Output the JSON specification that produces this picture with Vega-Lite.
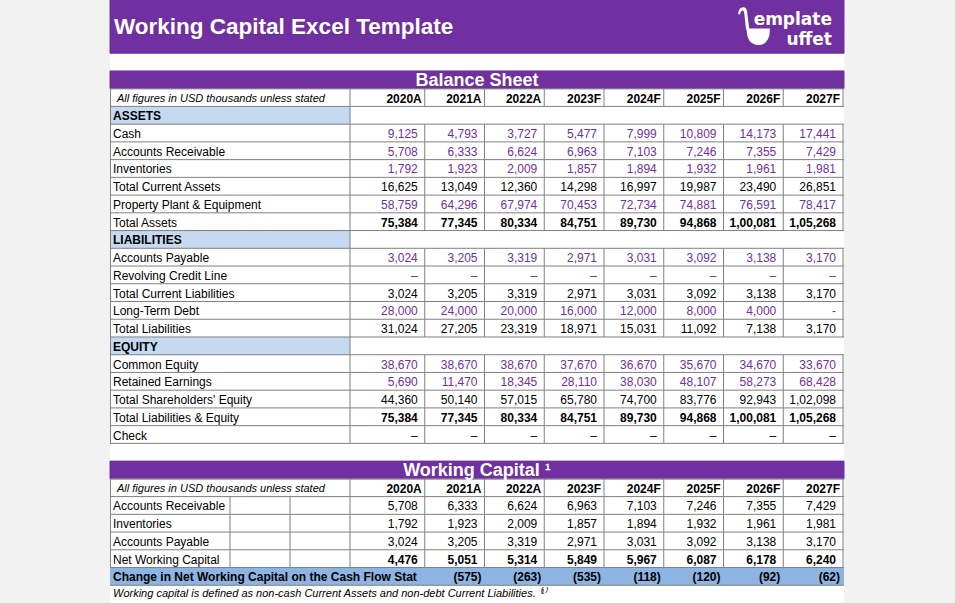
{
  "$schema": "https://vega.github.io/schema/vega-lite/v6.json",
  "width": 734,
  "height": 603,
  "padding": {"left": 110, "right": 111, "top": 0, "bottom": 0},
  "autosize": "none",
  "background": "#f2f2f2",
  "config": {
    "view": {"fill": "#ffffff", "stroke": null},
    "text": {"font": "Liberation Sans", "fontSize": 12, "baseline": "middle"}
  },
  "datasets": {
    "bands": [
      {"row": "h1", "kind": "title"},
      {"row": "h2", "kind": "title", "label": "Working Capital Excel Template"},
      {"row": "h3", "kind": "title"},
      {"row": "bsband", "kind": "band", "label": "Balance Sheet"},
      {"row": "wcband", "kind": "band", "label": "Working Capital \u00b9"}
    ],
    "lines": [
      {"table": "BS", "row": "bshead", "label": "All figures in USD thousands unless stated", "kind": "head", "2020A": "2020A", "2021A": "2021A", "2022A": "2022A", "2023F": "2023F", "2024F": "2024F", "2025F": "2025F", "2026F": "2026F", "2027F": "2027F"},
      {"table": "BS", "row": "ASSETS", "label": "ASSETS", "kind": "section"},
      {"table": "BS", "row": "bs_cash", "label": "Cash", "kind": "input", "2020A": "9,125", "2021A": "4,793", "2022A": "3,727", "2023F": "5,477", "2024F": "7,999", "2025F": "10,809", "2026F": "14,173", "2027F": "17,441"},
      {"table": "BS", "row": "bs_ar", "label": "Accounts Receivable", "kind": "input", "2020A": "5,708", "2021A": "6,333", "2022A": "6,624", "2023F": "6,963", "2024F": "7,103", "2025F": "7,246", "2026F": "7,355", "2027F": "7,429"},
      {"table": "BS", "row": "bs_inv", "label": "Inventories", "kind": "input", "2020A": "1,792", "2021A": "1,923", "2022A": "2,009", "2023F": "1,857", "2024F": "1,894", "2025F": "1,932", "2026F": "1,961", "2027F": "1,981"},
      {"table": "BS", "row": "bs_tca", "label": "Total Current Assets", "kind": "calc", "2020A": "16,625", "2021A": "13,049", "2022A": "12,360", "2023F": "14,298", "2024F": "16,997", "2025F": "19,987", "2026F": "23,490", "2027F": "26,851"},
      {"table": "BS", "row": "bs_ppe", "label": "Property Plant & Equipment", "kind": "input", "2020A": "58,759", "2021A": "64,296", "2022A": "67,974", "2023F": "70,453", "2024F": "72,734", "2025F": "74,881", "2026F": "76,591", "2027F": "78,417"},
      {"table": "BS", "row": "bs_ta", "label": "Total Assets", "kind": "total", "2020A": "75,384", "2021A": "77,345", "2022A": "80,334", "2023F": "84,751", "2024F": "89,730", "2025F": "94,868", "2026F": "1,00,081", "2027F": "1,05,268"},
      {"table": "BS", "row": "LIABILITIES", "label": "LIABILITIES", "kind": "section"},
      {"table": "BS", "row": "bs_ap", "label": "Accounts Payable", "kind": "input", "2020A": "3,024", "2021A": "3,205", "2022A": "3,319", "2023F": "2,971", "2024F": "3,031", "2025F": "3,092", "2026F": "3,138", "2027F": "3,170"},
      {"table": "BS", "row": "bs_rcl", "label": "Revolving Credit Line", "kind": "input", "2020A": "\u2013", "2021A": "\u2013", "2022A": "\u2013", "2023F": "\u2013", "2024F": "\u2013", "2025F": "\u2013", "2026F": "\u2013", "2027F": "\u2013"},
      {"table": "BS", "row": "bs_tcl", "label": "Total Current Liabilities", "kind": "calc", "2020A": "3,024", "2021A": "3,205", "2022A": "3,319", "2023F": "2,971", "2024F": "3,031", "2025F": "3,092", "2026F": "3,138", "2027F": "3,170"},
      {"table": "BS", "row": "bs_ltd", "label": "Long-Term Debt", "kind": "input", "2020A": "28,000", "2021A": "24,000", "2022A": "20,000", "2023F": "16,000", "2024F": "12,000", "2025F": "8,000", "2026F": "4,000", "2027F": "-"},
      {"table": "BS", "row": "bs_tl", "label": "Total Liabilities", "kind": "calc", "2020A": "31,024", "2021A": "27,205", "2022A": "23,319", "2023F": "18,971", "2024F": "15,031", "2025F": "11,092", "2026F": "7,138", "2027F": "3,170"},
      {"table": "BS", "row": "EQUITY", "label": "EQUITY", "kind": "section"},
      {"table": "BS", "row": "bs_ce", "label": "Common Equity", "kind": "input", "2020A": "38,670", "2021A": "38,670", "2022A": "38,670", "2023F": "37,670", "2024F": "36,670", "2025F": "35,670", "2026F": "34,670", "2027F": "33,670"},
      {"table": "BS", "row": "bs_re", "label": "Retained Earnings", "kind": "input", "2020A": "5,690", "2021A": "11,470", "2022A": "18,345", "2023F": "28,110", "2024F": "38,030", "2025F": "48,107", "2026F": "58,273", "2027F": "68,428"},
      {"table": "BS", "row": "bs_tse", "label": "Total Shareholders' Equity", "kind": "calc", "2020A": "44,360", "2021A": "50,140", "2022A": "57,015", "2023F": "65,780", "2024F": "74,700", "2025F": "83,776", "2026F": "92,943", "2027F": "1,02,098"},
      {"table": "BS", "row": "bs_tle", "label": "Total Liabilities & Equity", "kind": "total", "2020A": "75,384", "2021A": "77,345", "2022A": "80,334", "2023F": "84,751", "2024F": "89,730", "2025F": "94,868", "2026F": "1,00,081", "2027F": "1,05,268"},
      {"table": "BS", "row": "bs_check", "label": "Check", "kind": "calc", "2020A": "\u2013", "2021A": "\u2013", "2022A": "\u2013", "2023F": "\u2013", "2024F": "\u2013", "2025F": "\u2013", "2026F": "\u2013", "2027F": "\u2013"},
      {"table": "WC", "row": "wchead", "label": "All figures in USD thousands unless stated", "kind": "head", "2020A": "2020A", "2021A": "2021A", "2022A": "2022A", "2023F": "2023F", "2024F": "2024F", "2025F": "2025F", "2026F": "2026F", "2027F": "2027F"},
      {"table": "WC", "row": "wc_ar", "label": "Accounts Receivable", "kind": "calc", "2020A": "5,708", "2021A": "6,333", "2022A": "6,624", "2023F": "6,963", "2024F": "7,103", "2025F": "7,246", "2026F": "7,355", "2027F": "7,429"},
      {"table": "WC", "row": "wc_inv", "label": "Inventories", "kind": "calc", "2020A": "1,792", "2021A": "1,923", "2022A": "2,009", "2023F": "1,857", "2024F": "1,894", "2025F": "1,932", "2026F": "1,961", "2027F": "1,981"},
      {"table": "WC", "row": "wc_ap", "label": "Accounts Payable", "kind": "calc", "2020A": "3,024", "2021A": "3,205", "2022A": "3,319", "2023F": "2,971", "2024F": "3,031", "2025F": "3,092", "2026F": "3,138", "2027F": "3,170"},
      {"table": "WC", "row": "wc_nwc", "label": "Net Working Capital", "kind": "total", "2020A": "4,476", "2021A": "5,051", "2022A": "5,314", "2023F": "5,849", "2024F": "5,967", "2025F": "6,087", "2026F": "6,178", "2027F": "6,240"},
      {"table": "WC", "row": "wc_chg", "label": "Change in Net Working Capital on the Cash Flow Stat", "kind": "change", "2021A": "(575)", "2022A": "(263)", "2023F": "(535)", "2024F": "(118)", "2025F": "(120)", "2026F": "(92)", "2027F": "(62)"},
      {"table": "WC", "row": "foot", "label": "Working capital is defined as non-cash Current Assets and non-debt Current Liabilities. \u207d\u00b9\u207e", "kind": "foot"}
    ]
  },
  "resolve": {"scale": {"x": "independent"}},
  "layer": [
    {
      "data": {"name": "bands"},
      "mark": {"type": "rect", "color": "#7030a0", "stroke": "#7030a0", "strokeWidth": 1},
      "encoding": {
        "y": {"field": "row", "type": "nominal", "axis": null, "scale": {"type": "band", "paddingInner": 0, "paddingOuter": 0, "domain": ["h1","h2","h3","g1","bsband","bshead","ASSETS","bs_cash","bs_ar","bs_inv","bs_tca","bs_ppe","bs_ta","LIABILITIES","bs_ap","bs_rcl","bs_tcl","bs_ltd","bs_tl","EQUITY","bs_ce","bs_re","bs_tse","bs_tle","bs_check","g2","wcband","wchead","wc_ar","wc_inv","wc_ap","wc_nwc","wc_chg","foot"]}}
      }
    },
    {
      "data": {"name": "lines"},
      "transform": [{"filter": "datum.kind == 'section'"}],
      "mark": {"type": "rect", "color": "#c5d9f1"},
      "encoding": {
        "x": {"datum": "label", "type": "nominal", "axis": null, "scale": {"type": "band", "domain": ["label"], "range": [0, 240], "paddingInner": 0, "paddingOuter": 0}},
        "y": {"field": "row", "type": "nominal", "axis": null, "scale": {"type": "band", "paddingInner": 0, "paddingOuter": 0, "domain": ["h1","h2","h3","g1","bsband","bshead","ASSETS","bs_cash","bs_ar","bs_inv","bs_tca","bs_ppe","bs_ta","LIABILITIES","bs_ap","bs_rcl","bs_tcl","bs_ltd","bs_tl","EQUITY","bs_ce","bs_re","bs_tse","bs_tle","bs_check","g2","wcband","wchead","wc_ar","wc_inv","wc_ap","wc_nwc","wc_chg","foot"]}}
      }
    },
    {
      "data": {"name": "lines"},
      "transform": [{"filter": "datum.kind == 'change'"}],
      "mark": {"type": "rect", "color": "#8db4e2"},
      "encoding": {
        "y": {"field": "row", "type": "nominal", "axis": null, "scale": {"type": "band", "paddingInner": 0, "paddingOuter": 0, "domain": ["h1","h2","h3","g1","bsband","bshead","ASSETS","bs_cash","bs_ar","bs_inv","bs_tca","bs_ppe","bs_ta","LIABILITIES","bs_ap","bs_rcl","bs_tcl","bs_ltd","bs_tl","EQUITY","bs_ce","bs_re","bs_tse","bs_tle","bs_check","g2","wcband","wchead","wc_ar","wc_inv","wc_ap","wc_nwc","wc_chg","foot"]}}
      }
    },
    {
      "data": {"name": "lines"},
      "transform": [{"filter": "datum.kind != 'foot'"}],
      "mark": {"type": "rule", "color": "#808080", "strokeWidth": 1},
      "encoding": {
        "y": {"field": "row", "type": "nominal", "bandPosition": 1, "axis": null, "scale": {"type": "band", "paddingInner": 0, "paddingOuter": 0, "domain": ["h1","h2","h3","g1","bsband","bshead","ASSETS","bs_cash","bs_ar","bs_inv","bs_tca","bs_ppe","bs_ta","LIABILITIES","bs_ap","bs_rcl","bs_tcl","bs_ltd","bs_tl","EQUITY","bs_ce","bs_re","bs_tse","bs_tle","bs_check","g2","wcband","wchead","wc_ar","wc_inv","wc_ap","wc_nwc","wc_chg","foot"]}}
      }
    },
    {
      "data": {"name": "bands"},
      "transform": [{"filter": "datum.kind == 'band'"}],
      "mark": {"type": "rule", "color": "#808080", "strokeWidth": 1},
      "encoding": {
        "y": {"field": "row", "type": "nominal", "bandPosition": 1, "axis": null, "scale": {"type": "band", "paddingInner": 0, "paddingOuter": 0, "domain": ["h1","h2","h3","g1","bsband","bshead","ASSETS","bs_cash","bs_ar","bs_inv","bs_tca","bs_ppe","bs_ta","LIABILITIES","bs_ap","bs_rcl","bs_tcl","bs_ltd","bs_tl","EQUITY","bs_ce","bs_re","bs_tse","bs_tle","bs_check","g2","wcband","wchead","wc_ar","wc_inv","wc_ap","wc_nwc","wc_chg","foot"]}}
      }
    },
    {
      "data": {"name": "lines"},
      "transform": [
        {"filter": "datum.kind != 'change' && datum.kind != 'foot' && datum.kind != 'section'"},
        {"fold": ["2020A","2021A","2022A","2023F","2024F","2025F","2026F","2027F"], "as": ["year", "value"]},
        {"filter": "isValid(datum.value)"}
      ],
      "mark": {"type": "rule", "color": "#808080", "strokeWidth": 1},
      "encoding": {
        "x": {"field": "year", "type": "nominal", "bandPosition": 1, "axis": null, "scale": {"type": "band", "domain": ["2020A","2021A","2022A","2023F","2024F","2025F","2026F","2027F"], "range": [255, 733], "paddingInner": 0, "paddingOuter": 0}},
        "y": {"field": "row", "type": "nominal", "bandPosition": 0, "axis": null, "scale": {"type": "band", "paddingInner": 0, "paddingOuter": 0, "domain": ["h1","h2","h3","g1","bsband","bshead","ASSETS","bs_cash","bs_ar","bs_inv","bs_tca","bs_ppe","bs_ta","LIABILITIES","bs_ap","bs_rcl","bs_tcl","bs_ltd","bs_tl","EQUITY","bs_ce","bs_re","bs_tse","bs_tle","bs_check","g2","wcband","wchead","wc_ar","wc_inv","wc_ap","wc_nwc","wc_chg","foot"]}},
        "y2": {"field": "row", "bandPosition": 1}
      }
    },
    {
      "data": {"name": "lines"},
      "transform": [{"filter": "datum.kind != 'change' && datum.kind != 'foot'"}],
      "mark": {"type": "rule", "color": "#808080", "strokeWidth": 1},
      "encoding": {
        "x": {"datum": "label", "type": "nominal", "bandPosition": 1, "axis": null, "scale": {"type": "band", "domain": ["label"], "range": [0, 240], "paddingInner": 0, "paddingOuter": 0}},
        "y": {"field": "row", "type": "nominal", "bandPosition": 0, "axis": null, "scale": {"type": "band", "paddingInner": 0, "paddingOuter": 0, "domain": ["h1","h2","h3","g1","bsband","bshead","ASSETS","bs_cash","bs_ar","bs_inv","bs_tca","bs_ppe","bs_ta","LIABILITIES","bs_ap","bs_rcl","bs_tcl","bs_ltd","bs_tl","EQUITY","bs_ce","bs_re","bs_tse","bs_tle","bs_check","g2","wcband","wchead","wc_ar","wc_inv","wc_ap","wc_nwc","wc_chg","foot"]}},
        "y2": {"field": "row", "bandPosition": 1}
      }
    },
    {
      "data": {"name": "lines"},
      "transform": [{"filter": "datum.kind != 'change' && datum.kind != 'foot'"}],
      "mark": {"type": "rule", "color": "#808080", "strokeWidth": 1},
      "encoding": {
        "x": {"datum": "label", "type": "nominal", "bandPosition": 0, "axis": null, "scale": {"type": "band", "domain": ["label"], "range": [0.5, 240.5], "paddingInner": 0, "paddingOuter": 0}},
        "y": {"field": "row", "type": "nominal", "bandPosition": 0, "axis": null, "scale": {"type": "band", "paddingInner": 0, "paddingOuter": 0, "domain": ["h1","h2","h3","g1","bsband","bshead","ASSETS","bs_cash","bs_ar","bs_inv","bs_tca","bs_ppe","bs_ta","LIABILITIES","bs_ap","bs_rcl","bs_tcl","bs_ltd","bs_tl","EQUITY","bs_ce","bs_re","bs_tse","bs_tle","bs_check","g2","wcband","wchead","wc_ar","wc_inv","wc_ap","wc_nwc","wc_chg","foot"]}},
        "y2": {"field": "row", "bandPosition": 1}
      }
    },
    {
      "data": {"name": "lines"},
      "transform": [{"filter": "datum.table == 'WC' && (datum.kind == 'calc' || datum.kind == 'total')"}],
      "mark": {"type": "rule", "color": "#808080", "strokeWidth": 1},
      "encoding": {
        "x": {"datum": "label", "type": "nominal", "bandPosition": 0.5, "axis": null, "scale": {"type": "band", "domain": ["label"], "range": [0, 240], "paddingInner": 0, "paddingOuter": 0}},
        "y": {"field": "row", "type": "nominal", "bandPosition": 0, "axis": null, "scale": {"type": "band", "paddingInner": 0, "paddingOuter": 0, "domain": ["h1","h2","h3","g1","bsband","bshead","ASSETS","bs_cash","bs_ar","bs_inv","bs_tca","bs_ppe","bs_ta","LIABILITIES","bs_ap","bs_rcl","bs_tcl","bs_ltd","bs_tl","EQUITY","bs_ce","bs_re","bs_tse","bs_tle","bs_check","g2","wcband","wchead","wc_ar","wc_inv","wc_ap","wc_nwc","wc_chg","foot"]}},
        "y2": {"field": "row", "bandPosition": 1}
      }
    },
    {
      "data": {"name": "lines"},
      "transform": [{"filter": "datum.table == 'WC' && (datum.kind == 'calc' || datum.kind == 'total')"}],
      "mark": {"type": "rule", "color": "#808080", "strokeWidth": 1},
      "encoding": {
        "x": {"datum": "label", "type": "nominal", "bandPosition": 0.75, "axis": null, "scale": {"type": "band", "domain": ["label"], "range": [0, 240], "paddingInner": 0, "paddingOuter": 0}},
        "y": {"field": "row", "type": "nominal", "bandPosition": 0, "axis": null, "scale": {"type": "band", "paddingInner": 0, "paddingOuter": 0, "domain": ["h1","h2","h3","g1","bsband","bshead","ASSETS","bs_cash","bs_ar","bs_inv","bs_tca","bs_ppe","bs_ta","LIABILITIES","bs_ap","bs_rcl","bs_tcl","bs_ltd","bs_tl","EQUITY","bs_ce","bs_re","bs_tse","bs_tle","bs_check","g2","wcband","wchead","wc_ar","wc_inv","wc_ap","wc_nwc","wc_chg","foot"]}},
        "y2": {"field": "row", "bandPosition": 1}
      }
    },
    {
      "data": {"name": "lines"},
      "transform": [{"filter": "datum.kind == 'input' || datum.kind == 'calc' || datum.kind == 'total'"}],
      "mark": {"type": "text", "align": "left", "dx": 3, "dy": 1, "color": "#000000"},
      "encoding": {
        "text": {"field": "label"},
        "x": {"datum": "label", "type": "nominal", "bandPosition": 0, "axis": null, "scale": {"type": "band", "domain": ["label"], "range": [0, 240], "paddingInner": 0, "paddingOuter": 0}},
        "y": {"field": "row", "type": "nominal", "axis": null, "scale": {"type": "band", "paddingInner": 0, "paddingOuter": 0, "domain": ["h1","h2","h3","g1","bsband","bshead","ASSETS","bs_cash","bs_ar","bs_inv","bs_tca","bs_ppe","bs_ta","LIABILITIES","bs_ap","bs_rcl","bs_tcl","bs_ltd","bs_tl","EQUITY","bs_ce","bs_re","bs_tse","bs_tle","bs_check","g2","wcband","wchead","wc_ar","wc_inv","wc_ap","wc_nwc","wc_chg","foot"]}}
      }
    },
    {
      "data": {"name": "lines"},
      "transform": [{"filter": "datum.kind == 'section' || datum.kind == 'change'"}],
      "mark": {"type": "text", "align": "left", "dx": 3, "dy": 1, "fontWeight": "bold", "color": "#000000"},
      "encoding": {
        "text": {"field": "label"},
        "x": {"datum": "label", "type": "nominal", "bandPosition": 0, "axis": null, "scale": {"type": "band", "domain": ["label"], "range": [0, 240], "paddingInner": 0, "paddingOuter": 0}},
        "y": {"field": "row", "type": "nominal", "axis": null, "scale": {"type": "band", "paddingInner": 0, "paddingOuter": 0, "domain": ["h1","h2","h3","g1","bsband","bshead","ASSETS","bs_cash","bs_ar","bs_inv","bs_tca","bs_ppe","bs_ta","LIABILITIES","bs_ap","bs_rcl","bs_tcl","bs_ltd","bs_tl","EQUITY","bs_ce","bs_re","bs_tse","bs_tle","bs_check","g2","wcband","wchead","wc_ar","wc_inv","wc_ap","wc_nwc","wc_chg","foot"]}}
      }
    },
    {
      "data": {"name": "lines"},
      "transform": [{"filter": "datum.kind == 'head'"}],
      "mark": {"type": "text", "align": "left", "dx": 7, "dy": 1, "fontSize": 11, "fontStyle": "italic", "color": "#000000"},
      "encoding": {
        "text": {"field": "label"},
        "x": {"datum": "label", "type": "nominal", "bandPosition": 0, "axis": null, "scale": {"type": "band", "domain": ["label"], "range": [0, 240], "paddingInner": 0, "paddingOuter": 0}},
        "y": {"field": "row", "type": "nominal", "axis": null, "scale": {"type": "band", "paddingInner": 0, "paddingOuter": 0, "domain": ["h1","h2","h3","g1","bsband","bshead","ASSETS","bs_cash","bs_ar","bs_inv","bs_tca","bs_ppe","bs_ta","LIABILITIES","bs_ap","bs_rcl","bs_tcl","bs_ltd","bs_tl","EQUITY","bs_ce","bs_re","bs_tse","bs_tle","bs_check","g2","wcband","wchead","wc_ar","wc_inv","wc_ap","wc_nwc","wc_chg","foot"]}}
      }
    },
    {
      "data": {"name": "lines"},
      "transform": [{"filter": "datum.kind == 'foot'"}],
      "mark": {"type": "text", "align": "left", "dx": 3, "dy": 0, "fontSize": 11, "fontStyle": "italic", "color": "#000000"},
      "encoding": {
        "text": {"field": "label"},
        "x": {"datum": "label", "type": "nominal", "bandPosition": 0, "axis": null, "scale": {"type": "band", "domain": ["label"], "range": [0, 240], "paddingInner": 0, "paddingOuter": 0}},
        "y": {"field": "row", "type": "nominal", "axis": null, "scale": {"type": "band", "paddingInner": 0, "paddingOuter": 0, "domain": ["h1","h2","h3","g1","bsband","bshead","ASSETS","bs_cash","bs_ar","bs_inv","bs_tca","bs_ppe","bs_ta","LIABILITIES","bs_ap","bs_rcl","bs_tcl","bs_ltd","bs_tl","EQUITY","bs_ce","bs_re","bs_tse","bs_tle","bs_check","g2","wcband","wchead","wc_ar","wc_inv","wc_ap","wc_nwc","wc_chg","foot"]}}
      }
    },
    {
      "data": {"name": "lines"},
      "transform": [
        {"filter": "datum.kind == 'input' || datum.kind == 'calc'"},
        {"fold": ["2020A","2021A","2022A","2023F","2024F","2025F","2026F","2027F"], "as": ["year", "value"]},
        {"filter": "isValid(datum.value)"}
      ],
      "mark": {"type": "text", "align": "right", "dx": -7, "dy": 1},
      "encoding": {
        "text": {"field": "value"},
        "color": {"field": "kind", "type": "nominal", "legend": null, "scale": {"domain": ["input", "calc"], "range": ["#7030a0", "#000000"]}},
        "x": {"field": "year", "type": "nominal", "bandPosition": 1, "axis": null, "scale": {"type": "band", "domain": ["2020A","2021A","2022A","2023F","2024F","2025F","2026F","2027F"], "range": [255, 733], "paddingInner": 0, "paddingOuter": 0}},
        "y": {"field": "row", "type": "nominal", "axis": null, "scale": {"type": "band", "paddingInner": 0, "paddingOuter": 0, "domain": ["h1","h2","h3","g1","bsband","bshead","ASSETS","bs_cash","bs_ar","bs_inv","bs_tca","bs_ppe","bs_ta","LIABILITIES","bs_ap","bs_rcl","bs_tcl","bs_ltd","bs_tl","EQUITY","bs_ce","bs_re","bs_tse","bs_tle","bs_check","g2","wcband","wchead","wc_ar","wc_inv","wc_ap","wc_nwc","wc_chg","foot"]}}
      }
    },
    {
      "data": {"name": "lines"},
      "transform": [
        {"filter": "datum.kind == 'total'"},
        {"fold": ["2020A","2021A","2022A","2023F","2024F","2025F","2026F","2027F"], "as": ["year", "value"]},
        {"filter": "isValid(datum.value)"}
      ],
      "mark": {"type": "text", "align": "right", "dx": -7, "dy": 1, "fontWeight": "bold", "color": "#000000"},
      "encoding": {
        "text": {"field": "value"},
        "x": {"field": "year", "type": "nominal", "bandPosition": 1, "axis": null, "scale": {"type": "band", "domain": ["2020A","2021A","2022A","2023F","2024F","2025F","2026F","2027F"], "range": [255, 733], "paddingInner": 0, "paddingOuter": 0}},
        "y": {"field": "row", "type": "nominal", "axis": null, "scale": {"type": "band", "paddingInner": 0, "paddingOuter": 0, "domain": ["h1","h2","h3","g1","bsband","bshead","ASSETS","bs_cash","bs_ar","bs_inv","bs_tca","bs_ppe","bs_ta","LIABILITIES","bs_ap","bs_rcl","bs_tcl","bs_ltd","bs_tl","EQUITY","bs_ce","bs_re","bs_tse","bs_tle","bs_check","g2","wcband","wchead","wc_ar","wc_inv","wc_ap","wc_nwc","wc_chg","foot"]}}
      }
    },
    {
      "data": {"name": "lines"},
      "transform": [
        {"filter": "datum.kind == 'head' || datum.kind == 'change'"},
        {"fold": ["2020A","2021A","2022A","2023F","2024F","2025F","2026F","2027F"], "as": ["year", "value"]},
        {"filter": "isValid(datum.value)"}
      ],
      "mark": {"type": "text", "align": "right", "dx": -3, "dy": 1, "fontWeight": "bold", "color": "#000000"},
      "encoding": {
        "text": {"field": "value"},
        "x": {"field": "year", "type": "nominal", "bandPosition": 1, "axis": null, "scale": {"type": "band", "domain": ["2020A","2021A","2022A","2023F","2024F","2025F","2026F","2027F"], "range": [255, 733], "paddingInner": 0, "paddingOuter": 0}},
        "y": {"field": "row", "type": "nominal", "axis": null, "scale": {"type": "band", "paddingInner": 0, "paddingOuter": 0, "domain": ["h1","h2","h3","g1","bsband","bshead","ASSETS","bs_cash","bs_ar","bs_inv","bs_tca","bs_ppe","bs_ta","LIABILITIES","bs_ap","bs_rcl","bs_tcl","bs_ltd","bs_tl","EQUITY","bs_ce","bs_re","bs_tse","bs_tle","bs_check","g2","wcband","wchead","wc_ar","wc_inv","wc_ap","wc_nwc","wc_chg","foot"]}}
      }
    },
    {
      "data": {"name": "bands"},
      "transform": [{"filter": "datum.kind == 'band'"}],
      "mark": {"type": "text", "align": "center", "dy": 1, "fontSize": 18, "fontWeight": "bold", "color": "#ffffff"},
      "encoding": {
        "text": {"field": "label"},
        "y": {"field": "row", "type": "nominal", "axis": null, "scale": {"type": "band", "paddingInner": 0, "paddingOuter": 0, "domain": ["h1","h2","h3","g1","bsband","bshead","ASSETS","bs_cash","bs_ar","bs_inv","bs_tca","bs_ppe","bs_ta","LIABILITIES","bs_ap","bs_rcl","bs_tcl","bs_ltd","bs_tl","EQUITY","bs_ce","bs_re","bs_tse","bs_tle","bs_check","g2","wcband","wchead","wc_ar","wc_inv","wc_ap","wc_nwc","wc_chg","foot"]}}
      }
    },
    {
      "data": {"name": "bands"},
      "transform": [{"filter": "datum.kind == 'title' && isValid(datum.label)"}],
      "mark": {"type": "text", "align": "left", "dx": 4, "dy": 0, "fontSize": 22.5, "fontWeight": "bold", "color": "#ffffff"},
      "encoding": {
        "text": {"field": "label"},
        "x": {"datum": "label", "type": "nominal", "bandPosition": 0, "axis": null, "scale": {"type": "band", "domain": ["label"], "range": [0, 240], "paddingInner": 0, "paddingOuter": 0}},
        "y": {"field": "row", "type": "nominal", "axis": null, "scale": {"type": "band", "paddingInner": 0, "paddingOuter": 0, "domain": ["h1","h2","h3","g1","bsband","bshead","ASSETS","bs_cash","bs_ar","bs_inv","bs_tca","bs_ppe","bs_ta","LIABILITIES","bs_ap","bs_rcl","bs_tcl","bs_ltd","bs_tl","EQUITY","bs_ce","bs_re","bs_tse","bs_tle","bs_check","g2","wcband","wchead","wc_ar","wc_inv","wc_ap","wc_nwc","wc_chg","foot"]}}
      }
    },
    {
      "data": {"name": "bands"},
      "transform": [{"filter": "datum.kind == 'title' && isValid(datum.label)"}],
      "mark": {"type": "text", "text": ["emplate", "uffet\u00a0\u00a0"], "lineHeight": 20, "align": "right", "baseline": "alphabetic", "dy": -1.5, "fontSize": 17, "fontWeight": "bold", "font": "DejaVu Sans", "color": "#ffffff"},
      "encoding": {
        "x": {"datum": "logo", "type": "nominal", "bandPosition": 1, "axis": null, "scale": {"type": "band", "domain": ["logo"], "range": [645, 722], "paddingInner": 0, "paddingOuter": 0}},
        "y": {"field": "row", "type": "nominal", "axis": null, "scale": {"type": "band", "paddingInner": 0, "paddingOuter": 0, "domain": ["h1","h2","h3","g1","bsband","bshead","ASSETS","bs_cash","bs_ar","bs_inv","bs_tca","bs_ppe","bs_ta","LIABILITIES","bs_ap","bs_rcl","bs_tcl","bs_ltd","bs_tl","EQUITY","bs_ce","bs_re","bs_tse","bs_tle","bs_check","g2","wcband","wchead","wc_ar","wc_inv","wc_ap","wc_nwc","wc_chg","foot"]}}
      }
    },
    {
      "data": {"name": "bands"},
      "transform": [{"filter": "datum.kind == 'title' && isValid(datum.label)"}],
      "mark": {"type": "point", "filled": true, "color": "#ffffff", "opacity": 1, "size": 1600, "strokeWidth": 0, "shape": "M -0.85 -0.62 Q -0.82 -1 -0.55 -0.97 Q -0.38 -0.93 -0.38 -0.6 L -0.28 0.15 L -0.45 0.15 L -0.53 -0.6 Q -0.55 -0.8 -0.62 -0.8 Q -0.72 -0.8 -0.74 -0.62 Z M -0.42 0.1 L 0.75 0.1 Q 0.75 0.92 0.17 0.92 Q -0.42 0.92 -0.42 0.1 Z"},
      "encoding": {
        "x": {"datum": "logo", "type": "nominal", "bandPosition": 0, "axis": null, "scale": {"type": "band", "domain": ["logo"], "range": [645, 722], "paddingInner": 0, "paddingOuter": 0}},
        "y": {"field": "row", "type": "nominal", "axis": null, "scale": {"type": "band", "paddingInner": 0, "paddingOuter": 0, "domain": ["h1","h2","h3","g1","bsband","bshead","ASSETS","bs_cash","bs_ar","bs_inv","bs_tca","bs_ppe","bs_ta","LIABILITIES","bs_ap","bs_rcl","bs_tcl","bs_ltd","bs_tl","EQUITY","bs_ce","bs_re","bs_tse","bs_tle","bs_check","g2","wcband","wchead","wc_ar","wc_inv","wc_ap","wc_nwc","wc_chg","foot"]}}
      }
    }
  ]
}
